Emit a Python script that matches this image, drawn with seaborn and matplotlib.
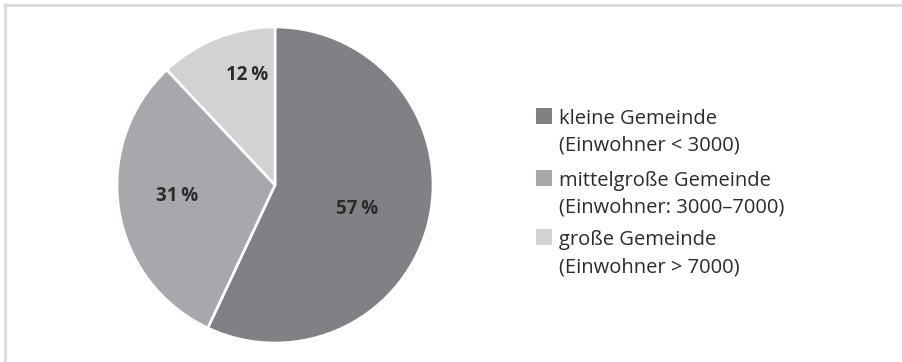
import matplotlib
matplotlib.use("Agg")
import matplotlib.pyplot as plt
from matplotlib.lines import Line2D
from matplotlib.patches import Rectangle
import numpy as np
import seaborn as sns

# Anteile der Gemeindegrößen
categories = ["kleine Gemeinde", "mittelgroße Gemeinde", "große Gemeinde"]
ranges = ["(Einwohner < 3000)", "(Einwohner: 3000–7000)", "(Einwohner > 7000)"]
shares = [57, 31, 12]

colors = ["#808184", "#a7a8ab", "#d1d2d4"]
text_color = "#2b2b2b"

sns.set_theme(style="white")
plt.rcParams["font.family"] = ["Open Sans", "DejaVu Sans"]

W, H, DPI = 902, 362, 100
fig = plt.figure(figsize=(W / DPI, H / DPI), dpi=DPI)
fig.patch.set_facecolor("white")

# light frame along the top and left edge
frame_kw = dict(transform=fig.transFigure, color="#dedede", linewidth=2.2, solid_capstyle="butt")
fig.add_artist(Line2D([3 / W, 1.0], [1 - 4.5 / H, 1 - 4.5 / H], **frame_kw))
fig.add_artist(Line2D([4.5 / W, 4.5 / W], [1 - 3 / H, 0.0], **frame_kw))

# pie axes: centre and radius in pixels
cx, cy, R = 275, 185, 158
size = R + 2
ax = fig.add_axes([(cx - size) / W, (H - cy - size) / H, 2 * size / W, 2 * size / H])
wedges, _ = ax.pie(
    shares,
    colors=colors,
    startangle=90,
    counterclock=False,
    radius=1,
    wedgeprops=dict(edgecolor="white", linewidth=1.9),
)
ax.set_xlim(-size / R, size / R)
ax.set_ylim(-size / R, size / R)
ax.axis("off")

# percentage labels placed along each wedge
label_r = [0.537, 0.622, 0.730]
label_turn = [-2.4, -4.0, -7.8]
for w, s, r, t in zip(wedges, shares, label_r, label_turn):
    ang = np.deg2rad((w.theta1 + w.theta2) / 2 + t)
    ax.text(r * np.cos(ang), r * np.sin(ang), f"{s}\u2009%",
            ha="center", va="center_baseline", fontsize=13.5,
            fontweight="bold", color=text_color)

# legend with two-line entries
box_x, box, text_x = 536, 16, 559
first_base = [124, 186, 245]
line_gap = 27
for col, cat, rng, base in zip(colors, categories, ranges, first_base):
    fig.add_artist(Rectangle((box_x / W, (H - base) / H), box / W, box / H,
                             transform=fig.transFigure, facecolor=col, edgecolor="none"))
    fig.text(text_x / W, (H - base) / H, cat, ha="left", va="baseline",
             fontsize=14.5, color=text_color)
    fig.text(text_x / W, (H - base - line_gap) / H, rng, ha="left", va="baseline",
             fontsize=14.5, color=text_color)

fig.savefig("out.png", dpi=DPI, facecolor="white")
